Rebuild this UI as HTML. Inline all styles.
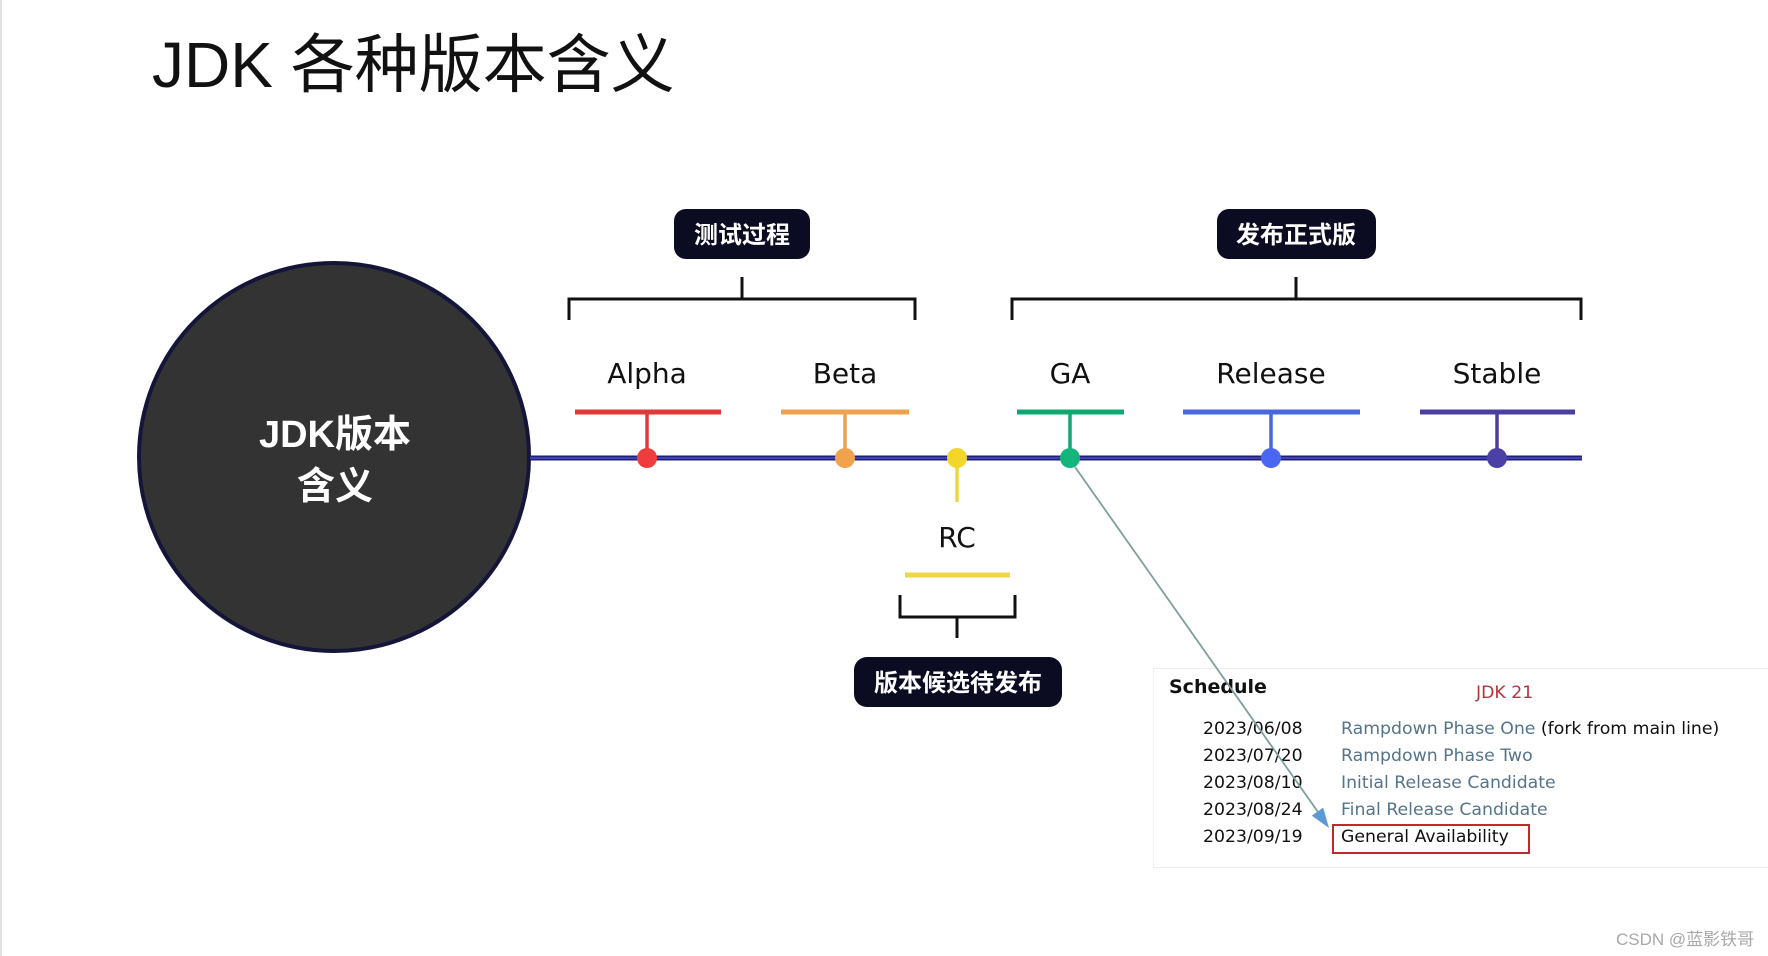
<!DOCTYPE html>
<html>
<head>
<meta charset="utf-8">
<style>
  html,body{margin:0;padding:0;background:#fff;}
  body{width:1768px;height:956px;overflow:hidden;position:relative;}
  svg{position:absolute;left:0;top:0;}
  .cjk{font-family:"Liberation Sans","Noto Sans CJK SC",sans-serif;}
  .lbl{font-family:"DejaVu Sans","Liberation Sans",sans-serif;font-size:28px;fill:#111;}
  .sch{font-family:"DejaVu Sans","Liberation Sans",sans-serif;font-size:17.3px;}
</style>
</head>
<body>
<svg width="1768" height="956" viewBox="0 0 1768 956" xmlns="http://www.w3.org/2000/svg">
  <rect x="0" y="0" width="1768" height="956" fill="#ffffff"/>
  <rect x="0" y="0" width="2" height="956" fill="#e2e2e2"/>

  <!-- Title -->
  <text x="152" y="87" class="cjk" font-size="64" fill="#111">JDK 各种版本含义</text>

  <!-- Circle -->
  <ellipse cx="334" cy="457" rx="195" ry="194" fill="#333333" stroke="#15153a" stroke-width="4"/>
  <text x="335" y="447" text-anchor="middle" class="cjk" font-size="38" font-weight="bold" fill="#fff">JDK版本</text>
  <text x="335" y="499" text-anchor="middle" class="cjk" font-size="38" font-weight="bold" fill="#fff">含义</text>

  <!-- Timeline -->
  <line x1="530" y1="458" x2="1582" y2="458" stroke="#1f1f78" stroke-width="5"/>
  <line x1="530" y1="458" x2="1582" y2="458" stroke="#4040b0" stroke-width="2"/>

  <!-- Top brackets -->
  <path d="M569 320 V299 H915 V320" fill="none" stroke="#111" stroke-width="3"/>
  <line x1="742" y1="277" x2="742" y2="299" stroke="#111" stroke-width="3"/>
  <path d="M1012 320 V299 H1581 V320" fill="none" stroke="#111" stroke-width="3"/>
  <line x1="1296" y1="277" x2="1296" y2="299" stroke="#111" stroke-width="3"/>

  <!-- Top boxes -->
  <rect x="674" y="209" width="136" height="50" rx="12" fill="#0b0b22"/>
  <text x="742" y="243" text-anchor="middle" class="cjk" font-size="24" font-weight="bold" fill="#fff">测试过程</text>
  <rect x="1217" y="209" width="159" height="50" rx="12" fill="#0b0b22"/>
  <text x="1296" y="243" text-anchor="middle" class="cjk" font-size="24" font-weight="bold" fill="#fff">发布正式版</text>

  <!-- Alpha -->
  <text x="647" y="383" text-anchor="middle" class="lbl">Alpha</text>
  <line x1="575" y1="412" x2="721" y2="412" stroke="#e0393a" stroke-width="5"/>
  <line x1="647" y1="412" x2="647" y2="458" stroke="#e0393a" stroke-width="3.5"/>
  <circle cx="647" cy="458" r="10" fill="#ef3d3d"/>

  <!-- Beta -->
  <text x="845" y="383" text-anchor="middle" class="lbl">Beta</text>
  <line x1="781" y1="412" x2="909" y2="412" stroke="#eda24f" stroke-width="5"/>
  <line x1="845" y1="412" x2="845" y2="458" stroke="#eda24f" stroke-width="3.5"/>
  <circle cx="845" cy="458" r="10" fill="#f0a24c"/>

  <!-- RC -->
  <line x1="957" y1="458" x2="957" y2="502" stroke="#f0d53a" stroke-width="3.5"/>
  <circle cx="957" cy="458" r="10" fill="#f2d62a"/>
  <text x="957" y="547" text-anchor="middle" class="lbl">RC</text>
  <line x1="905" y1="575" x2="1010" y2="575" stroke="#f0d54a" stroke-width="5"/>
  <path d="M900 595 V617 H1015 V595" fill="none" stroke="#111" stroke-width="3"/>
  <line x1="957" y1="617" x2="957" y2="638" stroke="#111" stroke-width="3"/>
  <rect x="854" y="657" width="208" height="50" rx="13" fill="#0b0b22"/>
  <text x="958" y="691" text-anchor="middle" class="cjk" font-size="24" font-weight="bold" fill="#fff">版本候选待发布</text>

  <!-- GA -->
  <text x="1070" y="383" text-anchor="middle" class="lbl">GA</text>
  <line x1="1017" y1="412" x2="1124" y2="412" stroke="#10a872" stroke-width="5"/>
  <line x1="1070" y1="412" x2="1070" y2="458" stroke="#10a872" stroke-width="3.5"/>
  <circle cx="1070" cy="458" r="10" fill="#14b57a"/>

  <!-- Release -->
  <text x="1271" y="383" text-anchor="middle" class="lbl">Release</text>
  <line x1="1183" y1="412" x2="1360" y2="412" stroke="#4a68dc" stroke-width="5"/>
  <line x1="1271" y1="412" x2="1271" y2="458" stroke="#4a68dc" stroke-width="3.5"/>
  <circle cx="1271" cy="458" r="10" fill="#4b66f0"/>

  <!-- Stable -->
  <text x="1497" y="383" text-anchor="middle" class="lbl">Stable</text>
  <line x1="1420" y1="412" x2="1575" y2="412" stroke="#4a3f9e" stroke-width="5"/>
  <line x1="1497" y1="412" x2="1497" y2="458" stroke="#4a3f9e" stroke-width="3.5"/>
  <circle cx="1497" cy="458" r="10" fill="#4b40a8"/>

  <!-- Schedule panel -->
  <rect x="1153.5" y="668.5" width="620" height="199" fill="#fff" stroke="#efefef" stroke-width="1"/>
  <text x="1169" y="693" style="font-family:'DejaVu Sans','Liberation Sans',sans-serif;font-size:19px;font-weight:bold;" fill="#111">Schedule</text>
  <text x="1476" y="698" class="sch" fill="#b5333c">JDK 21</text>

  <g class="sch" fill="#111">
    <text x="1203" y="734">2023/06/08</text>
    <text x="1203" y="761">2023/07/20</text>
    <text x="1203" y="788">2023/08/10</text>
    <text x="1203" y="815">2023/08/24</text>
    <text x="1203" y="842">2023/09/19</text>
  </g>
  <text x="1341" y="734" class="sch" fill="#55748a">Rampdown Phase One <tspan fill="#111">(fork from main line)</tspan></text>
  <text x="1341" y="761" class="sch" fill="#55748a">Rampdown Phase Two</text>
  <text x="1341" y="788" class="sch" fill="#55748a">Initial Release Candidate</text>
  <text x="1341" y="815" class="sch" fill="#55748a">Final Release Candidate</text>
  <text x="1341" y="842" class="sch" fill="#111">General Availability</text>
  <rect x="1333" y="825" width="196" height="28" fill="none" stroke="#c4282e" stroke-width="2"/>

  <!-- Arrow from GA to schedule -->
  <line x1="1075" y1="467" x2="1318" y2="812" stroke="#7f9e9e" stroke-width="1.8"/>
  <polygon points="1329,828 1323.2,807.6 1311.8,815.6" fill="#5b9bd5"/>

  <!-- Watermark -->
  <text x="1616" y="945" class="cjk" font-size="17" fill="#a8a8a8">CSDN @蓝影铁哥</text>
</svg>
</body>
</html>
